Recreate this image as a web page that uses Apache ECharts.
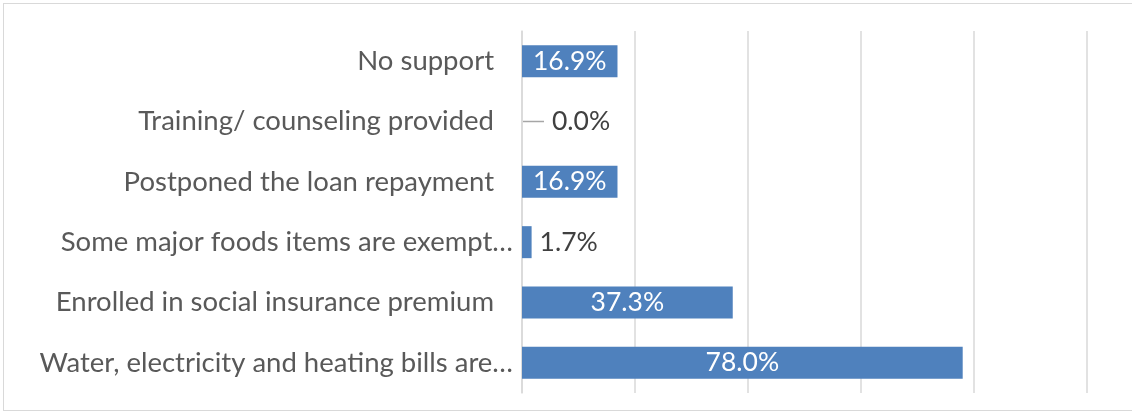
<!DOCTYPE html>
<html>
<head>
<meta charset="utf-8">
<script src="https://cdn.jsdelivr.net/npm/echarts@6/dist/echarts.min.js"></script>
<style>
html,body{margin:0;padding:0;background:#fff;overflow:hidden;}
#frame{position:absolute;left:3px;top:3px;width:1140px;height:408px;border:1.5px solid #d9d9d9;box-sizing:border-box;}
#chart{position:absolute;left:0;top:0;width:1132px;height:415px;}
</style>
</head>
<body>
<div id="frame"></div>
<div id="chart"></div>
<script>
var categories = [
  "No support",
  "Training/ counseling provided",
  "Postponed the loan repayment",
  "Some major foods items are exempt\u2026",
  "Enrolled in social insurance premium",
  "Water, electricity and heating bills are\u2026"
];
var values = [16.9, 0.0, 16.9, 1.7, 37.3, 78.0];
var insideLabel = [true, false, true, false, true, true];

var FONT = "Lato";
var AX_FS = 27.5;
var LB_FS = 26.5;
var chart = echarts.init(document.getElementById('chart'), null, {renderer: 'canvas'});

var data = values.map(function (v, i) {
  var item = {value: v};
  if (insideLabel[i]) {
    item.label = {position: 'inside', color: '#ffffff'};
  } else {
    item.label = {position: 'right', distance: v === 0 ? 1 : 8, color: '#404040'};
  }
  return item;
});

chart.setOption({
  animation: false,
  grid: {left: 522, right: 45, top: 31, bottom: 22, containLabel: false},
  xAxis: {
    type: 'value', min: 0, max: 100, interval: 20,
    axisLabel: {show: false}, axisTick: {show: false}, axisLine: {show: false},
    splitLine: {show: true, lineStyle: {color: '#d9d9d9', width: 1.5}}
  },
  yAxis: {
    type: 'category', inverse: true, data: categories,
    axisTick: {show: false},
    axisLine: {show: true, lineStyle: {color: '#d9d9d9', width: 1.5}},
    axisLabel: {
      margin: 9, color: '#595959', fontFamily: FONT, fontSize: AX_FS,
      formatter: function (v) {
        if (v.charAt(v.length - 1) === '\u2026') return '{a|' + v + '}';
        return '{a|' + v + '}{s|}';
      },
      rich: {
        a: {color: '#595959', fontFamily: FONT, fontSize: AX_FS},
        s: {width: 19}
      }
    }
  },
  series: [{
    type: 'bar', data: data, barWidth: 32,
    itemStyle: {color: '#4f81bd'},
    label: {
      show: true, fontFamily: FONT, fontSize: LB_FS,
      formatter: function (p) {
        if (p.value === 0) return '{line|}{sp|}{v|' + p.value.toFixed(1) + '%}';
        return p.value.toFixed(1) + '%';
      },
      rich: {
        line: {width: 21, height: 1.5, backgroundColor: '#a6a6a6'},
        sp: {width: 8},
        v: {fontFamily: FONT, fontSize: LB_FS, color: '#404040'}
      }
    }
  }]
});
</script>
</body>
</html>
